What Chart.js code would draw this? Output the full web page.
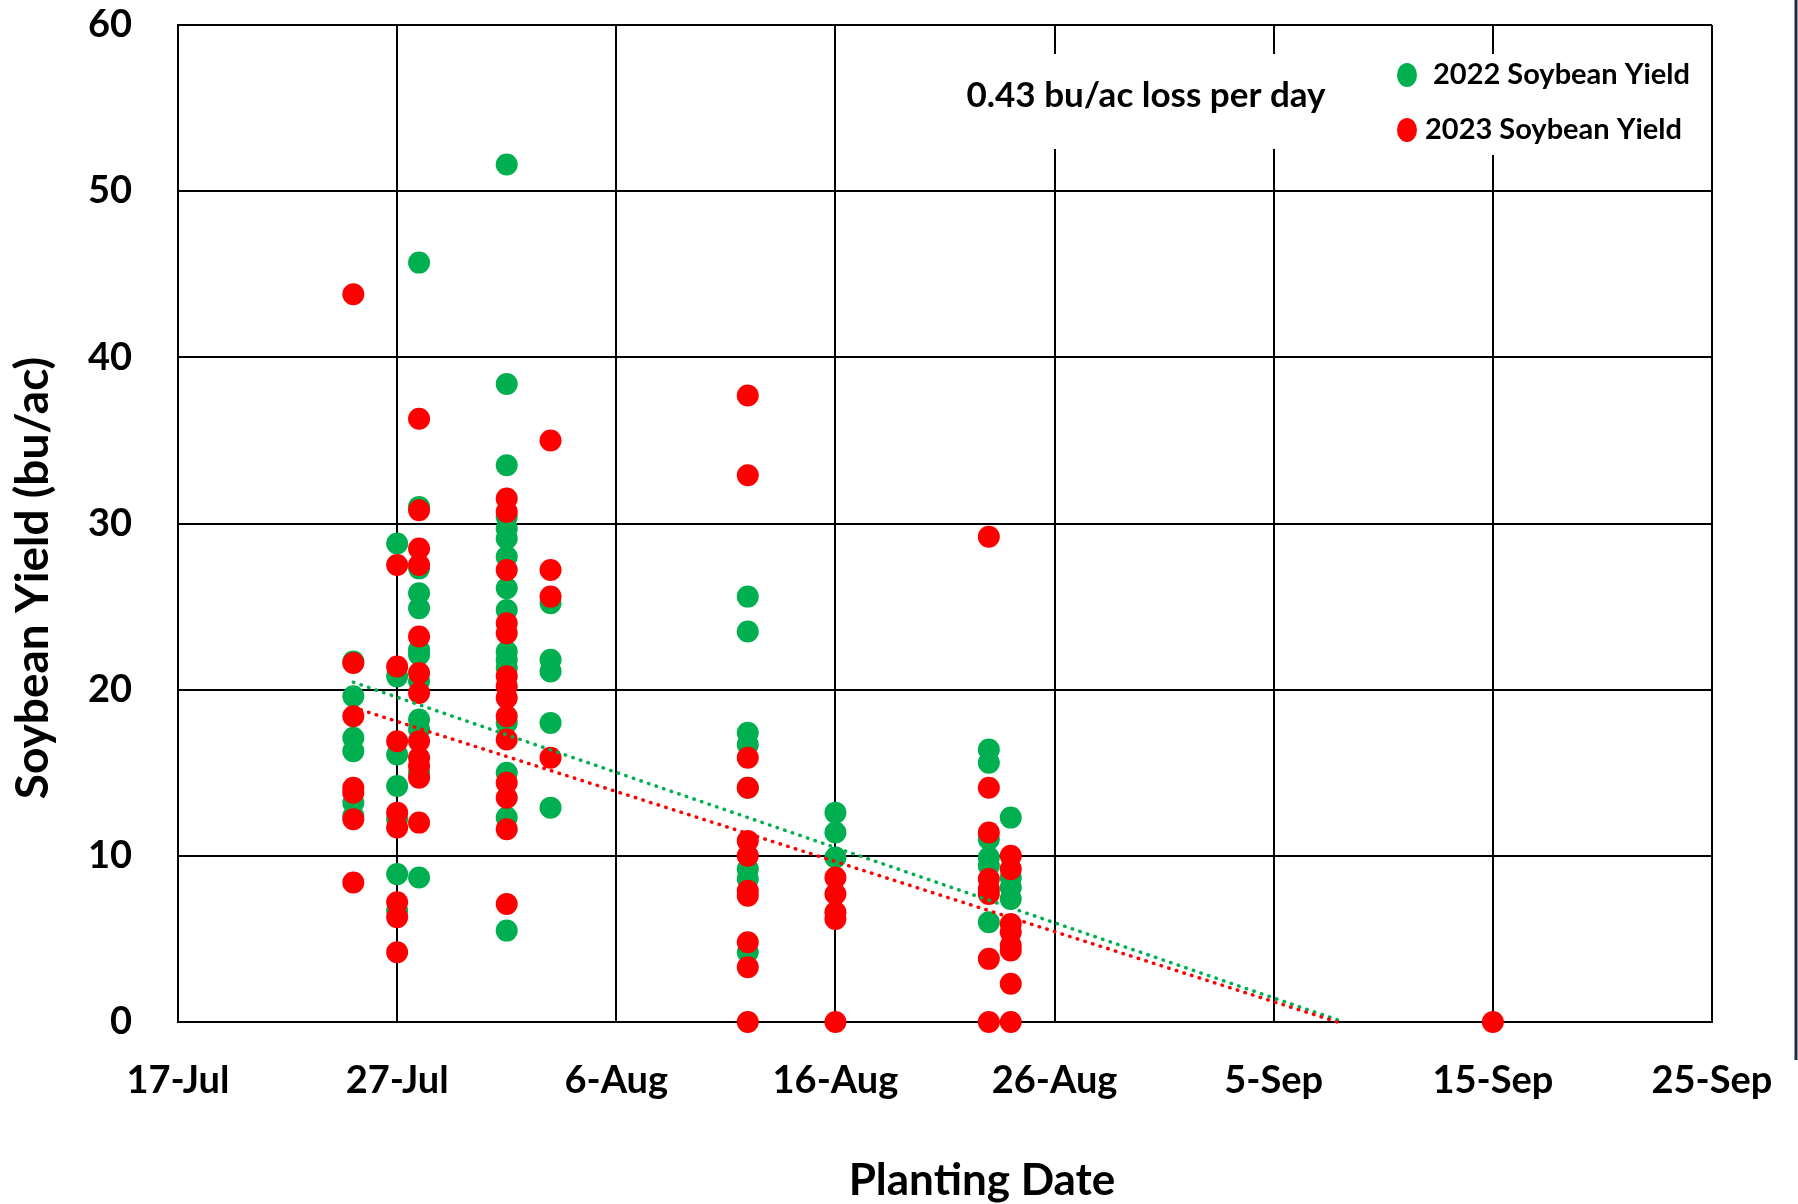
<!DOCTYPE html>
<html>
<head>
<meta charset="utf-8">
<title>Soybean Yield by Planting Date</title>
<script src="https://cdn.jsdelivr.net/npm/chart.js@4.4.0/dist/chart.umd.min.js"></script>
<style>
  html, body { margin: 0; padding: 0; background: #fff; }
  canvas { display: block; }
</style>
</head>
<body>
<canvas id="chart" width="1798" height="1204"></canvas>
<script>
// x values are days after 17-Jul
const tickLabels = ['17-Jul', '27-Jul', '6-Aug', '16-Aug', '26-Aug', '5-Sep', '15-Sep', '25-Sep'];
const plantingDays = [8, 10, 11, 15, 17, 26, 30, 37, 38, 60];

// yields per planting day (bu/ac)
const yield2022 = [
  [21.7, 19.6, 17.1, 16.3, 13.2, 12.4],
  [28.8, 20.8, 16.1, 14.2, 12.2, 8.9, 6.7],
  [45.7, 31.0, 27.3, 25.8, 24.9, 22.4, 22.1, 20.5, 18.2, 17.6, 15.0, 8.7],
  [51.6, 38.4, 33.5, 30.4, 29.7, 29.1, 28.0, 26.1, 24.8, 22.3, 21.8, 21.3, 18.0, 15.0, 12.3, 5.5],
  [25.2, 21.8, 21.1, 18.0, 12.9],
  [25.6, 23.5, 17.4, 16.7, 14.1, 9.2, 8.6, 4.2],
  [12.6, 11.4, 9.9],
  [16.4, 15.6, 11.0, 9.9, 9.4, 6.0],
  [12.3, 8.7, 8.1, 7.4],
  []
];
const yield2023 = [
  [43.8, 21.6, 18.4, 14.1, 13.8, 12.2, 8.4],
  [27.5, 21.4, 16.9, 12.6, 11.7, 7.2, 6.3, 4.2],
  [36.3, 30.8, 28.5, 27.5, 23.2, 21.0, 19.8, 16.9, 15.9, 15.4, 14.7, 12.0],
  [31.5, 30.7, 27.2, 24.0, 23.4, 20.8, 20.2, 19.5, 18.4, 17.0, 14.4, 13.5, 11.6, 7.1],
  [35.0, 27.2, 25.6, 15.9],
  [37.7, 32.9, 15.9, 14.1, 10.9, 10.0, 7.9, 7.6, 4.8, 3.3, 0],
  [8.7, 7.7, 6.6, 6.2, 0],
  [29.2, 14.1, 11.4, 8.6, 8.0, 7.7, 3.8, 0],
  [10.0, 9.2, 5.9, 5.4, 4.6, 4.3, 2.3, 0],
  [0]
];

// linear trend lines (start and end)
const trendDays2022 = [8, 53.2];
const trendYield2022 = [20.45, 0];
const trendDays2023 = [8, 52.9];
const trendYield2023 = [18.93, 0];

const seriesNames = ['2022 Soybean Yield', '2023 Soybean Yield'];
const noteText = '0.43 bu/ac loss per day';

const GREEN = '#00B050';
const RED = '#FF0000';
const FONT = 'Lato, "Open Sans", sans-serif';

function toPoints(days, groups) {
  const pts = [];
  groups.forEach((g, i) => g.forEach(y => pts.push({ x: days[i], y: y })));
  return pts;
}
function trendPoints(days, ys) {
  return days.map((d, i) => ({ x: d, y: ys[i] }));
}

// axis titles, note box, legend and the dark edge line
const overlay = {
  id: 'overlay',
  afterDraw(chart) {
    const c = chart.ctx;
    c.save();
    c.fillStyle = '#000';
    c.textAlign = 'center';
    c.textBaseline = 'middle';
    c.font = 'bold 44px ' + FONT;
    c.fillText('Planting Date', 982, 1181);
    c.save();
    c.translate(33, 578);
    c.rotate(-Math.PI / 2);
    c.font = 'bold 46px ' + FONT;
    c.fillText('Soybean Yield (bu/ac)', 0, 0);
    c.restore();

    // white boxes over the grid
    c.fillStyle = '#fff';
    c.fillRect(962, 54, 372, 95);
    c.fillRect(1388, 54, 316, 101);

    c.fillStyle = '#000';
    c.font = 'bold 35px ' + FONT;
    c.fillText(noteText, 1146, 96);

    // legend
    const items = [
      { color: GREEN, mx: 1407, my: 75, tx: 1433 },
      { color: RED, mx: 1407, my: 130, tx: 1425 }
    ];
    c.font = 'bold 29px ' + FONT;
    c.textAlign = 'left';
    items.forEach((it, i) => {
      c.fillStyle = it.color;
      c.beginPath();
      c.ellipse(it.mx, it.my, 10, 12, 0, 0, Math.PI * 2);
      c.fill();
      c.fillStyle = '#000';
      c.fillText(seriesNames[i], it.tx, it.my);
    });

    c.strokeStyle = '#1F2A44';
    c.lineWidth = 3;
    c.beginPath();
    c.moveTo(1796, 0);
    c.lineTo(1796, 1060);
    c.stroke();
    c.restore();
  }
};

const tickFont = { family: FONT, size: 38, weight: 'bold' };

new Chart(document.getElementById('chart'), {
  type: 'scatter',
  data: {
    datasets: [
      {
        label: '2023 trend', type: 'line',
        data: trendPoints(trendDays2023, trendYield2023),
        borderColor: RED, borderWidth: 3.5, borderDash: [0.5, 7.5], borderCapStyle: 'round',
        pointRadius: 0, fill: false, order: 0, clip: false
      },
      {
        label: '2022 trend', type: 'line',
        data: trendPoints(trendDays2022, trendYield2022),
        borderColor: GREEN, borderWidth: 3.5, borderDash: [0.5, 7.5], borderCapStyle: 'round',
        pointRadius: 0, fill: false, order: 1, clip: false
      },
      {
        label: seriesNames[1],
        data: toPoints(plantingDays, yield2023),
        backgroundColor: RED, borderWidth: 0, pointRadius: 11, order: 2, clip: false
      },
      {
        label: seriesNames[0],
        data: toPoints(plantingDays, yield2022),
        backgroundColor: GREEN, borderWidth: 0, pointRadius: 11, order: 3, clip: false
      }
    ]
  },
  options: {
    responsive: false,
    animation: false,
    layout: { padding: { top: 25, right: 86, left: 0, bottom: 0 } },
    plugins: { legend: { display: false }, tooltip: { enabled: false } },
    scales: {
      x: {
        type: 'linear', min: 0, max: 70,
        ticks: {
          stepSize: 10, autoSkip: false, maxRotation: 0,
          callback: v => tickLabels[Math.round(v / 10)],
          font: tickFont, color: '#000', padding: 36
        },
        grid: { color: '#000', lineWidth: 2, drawTicks: false },
        border: { color: '#000', width: 2 },
        afterFit: s => { s.height = 182; s.paddingLeft = 0; s.paddingRight = 0; }
      },
      y: {
        min: 0, max: 60,
        ticks: { stepSize: 10, font: tickFont, color: '#000', padding: 46 },
        grid: { color: '#000', lineWidth: 2, drawTicks: false },
        border: { color: '#000', width: 2 },
        afterFit: s => { s.width = 178; s.paddingTop = 0; s.paddingBottom = 0; }
      }
    }
  },
  plugins: [overlay]
});
</script>
</body>
</html>
